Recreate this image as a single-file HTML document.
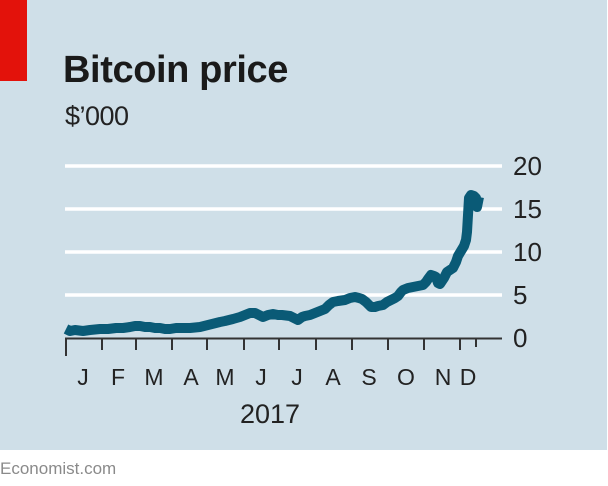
<!DOCTYPE html>
<html>
<head>
<meta charset="utf-8">
<style>
  html, body { margin: 0; padding: 0; background: #ffffff; }
  body { width: 608px; height: 486px; overflow: hidden; }
  svg { display: block; }
</style>
</head>
<body>
<svg width="608" height="486" viewBox="0 0 608 486" xmlns="http://www.w3.org/2000/svg">
  <rect x="0" y="0" width="608" height="486" fill="#ffffff"/>
  <rect x="0" y="0" width="607" height="450" fill="#cfdfe8"/>
  <rect x="0" y="0" width="27" height="81" fill="#e3120b"/>

  <text x="63" y="82" font-family="Liberation Sans, sans-serif" font-weight="bold" font-size="38" letter-spacing="-0.4" fill="#1a1a1a">Bitcoin price</text>
  <text x="65" y="125" font-family="Liberation Sans, sans-serif" font-size="27" letter-spacing="-0.5" fill="#222">$’000</text>

  <!-- gridlines -->
  <g stroke="#ffffff" stroke-width="3.5">
    <line x1="65" y1="166" x2="502" y2="166"/>
    <line x1="65" y1="209" x2="502" y2="209"/>
    <line x1="65" y1="252" x2="502" y2="252"/>
    <line x1="65" y1="295" x2="502" y2="295"/>
  </g>

  <!-- y labels -->
  <g font-family="Liberation Sans, sans-serif" font-size="26" fill="#222">
    <text x="513" y="175">20</text>
    <text x="513" y="218">15</text>
    <text x="513" y="261">10</text>
    <text x="513" y="304">5</text>
    <text x="513" y="347">0</text>
  </g>

  <!-- series -->
  <polyline fill="none" stroke="#0a5a76" stroke-width="10" stroke-linejoin="round" stroke-linecap="butt"
    points="66,329 70,331 75,330 83,331 90,330 100,329 108,329 116,328 123,328 130,327 135,326 140,326 145,327 150,327 155,328 160,328 165,329 170,329 176,328 183,328 190,328 200,327 208,325 216,323 220,322 225,321 233,319 240,317 245,315 250,313 255,313 259,315 263,317 268,315 273,314 278,315 282,315 290,316 294,318 298,320 302,317 305,316 310,315 315,313 320,311 325,309 329,305 333,302 338,301 345,300 350,298 355,297 359,298 362,299 366,302 368,304 371,307 375,307 378,306 383,305 387,302 391,300 395,298 398,296 401,292 403,290 408,288 413,287 418,286 423,285 426,282 428,279 431,275 434,276 436,277 438,283 440,284 442,281 444,278 447,272 450,270 453,268 456,262 458,256 461,251 464,246 466,240 467,232 468,215 469,198 471,195 474,196 476,198 477,207 478,202 479,197"/>

  <!-- axis -->
  <line x1="65" y1="338.5" x2="502" y2="338.5" stroke="#333" stroke-width="2"/>
  <g stroke="#333" stroke-width="2">
    <line x1="66" y1="338" x2="66" y2="356"/>
    <line x1="102" y1="338" x2="102" y2="350"/>
    <line x1="136" y1="338" x2="136" y2="350"/>
    <line x1="172" y1="338" x2="172" y2="350"/>
    <line x1="207" y1="338" x2="207" y2="350"/>
    <line x1="244" y1="338" x2="244" y2="350"/>
    <line x1="279" y1="338" x2="279" y2="350"/>
    <line x1="316" y1="338" x2="316" y2="350"/>
    <line x1="352" y1="338" x2="352" y2="350"/>
    <line x1="388" y1="338" x2="388" y2="350"/>
    <line x1="424" y1="338" x2="424" y2="350"/>
    <line x1="460" y1="338" x2="460" y2="350"/>
    <line x1="476" y1="338" x2="476" y2="347"/>
  </g>

  <!-- month labels -->
  <g font-family="Liberation Sans, sans-serif" font-size="23" fill="#222" text-anchor="middle">
    <text x="83" y="385">J</text>
    <text x="118" y="385">F</text>
    <text x="154" y="385">M</text>
    <text x="191" y="385">A</text>
    <text x="225" y="385">M</text>
    <text x="261" y="385">J</text>
    <text x="297" y="385">J</text>
    <text x="333" y="385">A</text>
    <text x="369" y="385">S</text>
    <text x="406" y="385">O</text>
    <text x="443" y="385">N</text>
    <text x="468" y="385">D</text>
  </g>
  <text x="270" y="423" font-family="Liberation Sans, sans-serif" font-size="27" fill="#222" text-anchor="middle">2017</text>

  <text x="0" y="474" font-family="Liberation Sans, sans-serif" font-size="17" fill="#8a8a8a">Economist.com</text>
</svg>
</body>
</html>
